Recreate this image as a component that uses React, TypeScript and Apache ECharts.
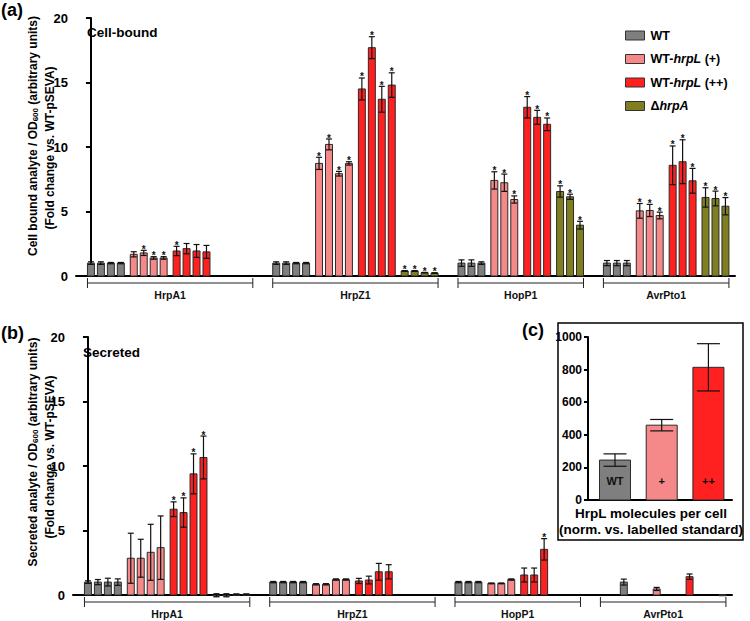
import React, { useEffect, useRef } from "react";
import * as echarts from "echarts";

const FONT = '"Liberation Sans", Arial, Helvetica, sans-serif';

const groups = ["HrpA1", "HrpZ1", "HopP1", "AvrPto1"];
const repsPerGroup = [4, 4, 3, 3];
const strains = ["WT", "WT-hrpL (+)", "WT-hrpL (++)", "ΔhrpA"];
const strainLabels = ["WT", "WT-{i|hrpL} (+)", "WT-{i|hrpL} (++)", "Δ{i|hrpA}"];
const strainColors = ["#7f7f7f", "#f58888", "#ff2020", "#7f7f22"];

// (a) Cell-bound, values in order HrpA1 x4, HrpZ1 x4, HopP1 x3, AvrPto1 x3
const cellWT = [1.0, 1.0, 1.0, 1.0, 1.0, 1.0, 1.0, 1.0, 1.0, 1.0, 1.0, 1.0, 1.0, 1.0];
const cellWTErr = [0.1, 0.1, 0.05, 0.05, 0.1, 0.1, 0.05, 0.05, 0.25, 0.25, 0.1, 0.2, 0.2, 0.2];
const cellWTSig = [0, 0, 0, 0, 0, 0, 0, 0, 0, 0, 0, 0, 0, 0];
const cellPlus = [1.68, 1.79, 1.4, 1.4, 8.73, 10.2, 7.93, 8.73, 7.41, 7.23, 5.93, 5.05, 5.08, 4.69];
const cellPlusErr = [0.2, 0.2, 0.1, 0.1, 0.47, 0.42, 0.18, 0.13, 0.67, 0.67, 0.28, 0.57, 0.47, 0.26];
const cellPlusSig = [0, 1, 1, 1, 1, 1, 1, 1, 1, 1, 1, 1, 1, 1];
const cellPP = [1.94, 2.12, 1.94, 1.87, 14.5, 17.7, 13.7, 14.8, 13.08, 12.3, 11.76, 8.58, 8.86, 7.38];
const cellPPErr = [0.36, 0.4, 0.5, 0.5, 0.85, 0.85, 1.0, 0.95, 0.83, 0.54, 0.49, 1.5, 1.7, 0.96];
const cellPPSig = [1, 0, 0, 0, 1, 1, 1, 1, 1, 1, 1, 1, 1, 1];
const cellDelta = [null, null, null, null, 0.39, 0.39, 0.26, 0.23, 6.55, 6.14, 3.94, 6.09, 6.01, 5.41];
const cellDeltaErr = [0, 0, 0, 0, 0.03, 0.03, 0.02, 0.02, 0.44, 0.2, 0.3, 0.75, 0.57, 0.67];
const cellDeltaSig = [0, 0, 0, 0, 1, 1, 1, 1, 1, 1, 1, 1, 1, 1];

// (b) Secreted
const secWT = [1.0, 1.0, 1.0, 1.0, 1.0, 1.0, 1.0, 1.0, 1.0, 1.0, 1.0, null, null, 1.0];
const secWTErr = [0.1, 0.2, 0.3, 0.25, 0.05, 0.05, 0.05, 0.05, 0.05, 0.05, 0.05, 0, 0, 0.23];
const secWTSig = [0, 0, 0, 0, 0, 0, 0, 0, 0, 0, 0, 0, 0, 0];
const secPlus = [2.85, 2.85, 3.31, 3.67, 0.83, 0.83, 1.2, 1.2, 0.9, 0.9, 1.2, null, null, 0.47];
const secPlusErr = [1.94, 1.47, 2.17, 2.46, 0.05, 0.05, 0.05, 0.05, 0.03, 0.03, 0.05, 0, 0, 0.12];
const secPlusSig = [0, 0, 0, 0, 0, 0, 0, 0, 0, 0, 0, 0, 0, 0];
const secPP = [6.65, 6.39, 9.39, 10.66, 1.09, 1.16, 1.8, 1.8, 1.55, 1.55, 3.54, null, null, 1.42];
const secPPErr = [0.57, 1.14, 1.55, 1.66, 0.2, 0.3, 0.65, 0.55, 0.54, 0.54, 0.83, 0, 0, 0.21];
const secPPSig = [1, 1, 1, 1, 0, 0, 0, 0, 0, 0, 1, 0, 0, 0];
const secDelta = [-0.02, -0.02, 0.06, 0.06, null, null, null, null, null, null, null, null, null, 0.02];
const secDeltaErr = [0.12, 0.12, 0.02, 0.02, 0, 0, 0, 0, 0, 0, 0, 0, 0, 0];
const secDeltaSig = [0, 0, 0, 0, 0, 0, 0, 0, 0, 0, 0, 0, 0, 0];

// (c) HrpL molecules per cell
const insetLabels = ["WT", "+", "++"];
const insetValues = [245, 459, 814];
const insetErr = [38, 35, 145];

const yTicksMain = [0, 20, 5];
const yTicksInset = [0, 1000, 200];

const titleA1 = "{a|Cell bound analyte / OD}{s|600}{a| (arbitrary units)}";
const titleB1 = "{a|Secreted analyte / OD}{s|600}{a| (arbitrary units)}";
const title2 = "(Fold change vs. WT-pSEVA)";

// layout of bar slots (in bar-pitch units)
const SUB_GAP = 0.3;
const GROUP_GAP = 2.7;
const HALF_W = 0.35;

function buildPositions() {
  const pos: number[][] = [[], [], [], []];
  const ranges: number[][] = [];
  let start = 0;
  repsPerGroup.forEach((n) => {
    for (let s = 0; s < 4; s++) for (let r = 0; r < n; r++) pos[s].push(start + s * (n + SUB_GAP) + r);
    const end = start + 3 * (n + SUB_GAP) + n - 1;
    ranges.push([start - HALF_W, end + HALF_W, 0]);
    start = end + GROUP_GAP;
  });
  return { pos, ranges };
}

function makeBarRender(halfW: number, capPx: number, colorOf: (p: any, api: any) => string, labelOf?: (p: any) => string) {
  return (params: any, api: any) => {
    const x = api.value(0);
    const v = api.value(1);
    const e = api.value(2);
    const sig = api.value(3);
    const tl = api.coord([x - halfW, v]);
    const br = api.coord([x + halfW, 0]);
    const children: any[] = [];
    children.push({
      type: "rect",
      shape: { x: tl[0], y: Math.min(tl[1], br[1]), width: br[0] - tl[0], height: Math.max(1, Math.abs(br[1] - tl[1])) },
      style: { fill: colorOf(params, api), stroke: "#2b2b2b", lineWidth: 1 },
    });
    let topY = tl[1];
    if (e > 0) {
      const hi = api.coord([x, v + e]);
      const lo = api.coord([x, v - e]);
      topY = hi[1];
      const st = { stroke: "#111", lineWidth: 1.2 };
      children.push({ type: "line", shape: { x1: hi[0], y1: hi[1], x2: lo[0], y2: lo[1] }, style: st });
      children.push({ type: "line", shape: { x1: hi[0] - capPx, y1: hi[1], x2: hi[0] + capPx, y2: hi[1] }, style: st });
      children.push({ type: "line", shape: { x1: lo[0] - capPx, y1: lo[1], x2: lo[0] + capPx, y2: lo[1] }, style: st });
    }
    if (sig) {
      children.push({
        type: "text",
        style: { text: "*", x: (tl[0] + br[0]) / 2, y: topY + 4, align: "center", verticalAlign: "bottom", font: `bold 10px ${FONT}`, fill: "#111" },
      });
    }
    if (labelOf) {
      children.push({
        type: "text",
        style: { text: labelOf(params), x: (tl[0] + br[0]) / 2, y: br[1] - 19, align: "center", verticalAlign: "middle", font: `bold 11px ${FONT}`, fill: "#111" },
      });
    }
    return { type: "group", children };
  };
}

function makeBracketRender(offset: number) {
  return (params: any, api: any) => {
    const a = api.coord([api.value(0), 0]);
    const b = api.coord([api.value(1), 0]);
    const y = a[1] + offset;
    const st = { stroke: "#222", lineWidth: 1 };
    return {
      type: "group",
      children: [
        { type: "line", shape: { x1: a[0], y1: y, x2: b[0], y2: y }, style: st },
        { type: "line", shape: { x1: a[0], y1: y - 5, x2: a[0], y2: y + 5 }, style: st },
        { type: "line", shape: { x1: b[0], y1: y - 5, x2: b[0], y2: y + 5 }, style: st },
        {
          type: "text",
          style: { text: groups[params.dataIndex], x: (a[0] + b[0]) / 2, y: y + 12, align: "center", verticalAlign: "middle", font: `bold 10.5px ${FONT}`, fill: "#111" },
        },
      ],
    };
  };
}

function yTitle(text: string, x: number, y: number, rich: boolean) {
  const style: any = { text, font: `bold 12px ${FONT}`, fill: "#000", align: "center", verticalAlign: "middle" };
  if (rich) {
    style.rich = {
      a: { font: `bold 12px ${FONT}`, fill: "#000" },
      s: { font: `bold 8px ${FONT}`, fill: "#000", padding: [5, 0, 0, 0] },
    };
  }
  return { type: "text", x, y, rotation: Math.PI / 2, style, silent: true };
}

export default function App() {
  const ref = useRef<HTMLDivElement>(null);
  useEffect(() => {
    if (!ref.current) return;
    const chart = echarts.init(ref.current, undefined, { renderer: "svg" });
    const { pos, ranges } = buildPositions();

    const panelSets = [
      [
        [cellWT, cellWTErr, cellWTSig],
        [cellPlus, cellPlusErr, cellPlusSig],
        [cellPP, cellPPErr, cellPPSig],
        [cellDelta, cellDeltaErr, cellDeltaSig],
      ],
      [
        [secWT, secWTErr, secWTSig],
        [secPlus, secPlusErr, secPlusSig],
        [secPP, secPPErr, secPPSig],
        [secDelta, secDeltaErr, secDeltaSig],
      ],
    ];

    const series: any[] = [];
    panelSets.forEach((sets, panel) => {
      sets.forEach(([vals, errs, sigs]: any, s: number) => {
        const data: any[] = [];
        vals.forEach((v: number | null, i: number) => {
          if (v === null) return;
          data.push([pos[s][i], v, errs[i], sigs[i]]);
        });
        const color = strainColors[s];
        series.push({
          type: "custom",
          name: strains[s],
          xAxisIndex: panel,
          yAxisIndex: panel,
          clip: false,
          silent: true,
          itemStyle: { color },
          encode: { x: 0, y: 1 },
          data,
          renderItem: makeBarRender(HALF_W, 3, () => color),
          z: 3,
        });
      });
      series.push({
        type: "custom",
        name: "brackets" + panel,
        xAxisIndex: panel,
        yAxisIndex: panel,
        clip: false,
        silent: true,
        encode: { x: [0, 1], y: 2 },
        data: ranges,
        renderItem: makeBracketRender(7),
      });
    });

    series.push({
      type: "custom",
      name: "HrpL",
      xAxisIndex: 2,
      yAxisIndex: 2,
      clip: false,
      silent: true,
      encode: { x: 0, y: 1 },
      data: insetValues.map((v, i) => [i + 1, v, insetErr[i], 0, i]),
      renderItem: makeBarRender(0.332, 11.5, (p: any) => strainColors[p.dataIndex], (p: any) => insetLabels[p.dataIndex]),
      z: 3,
    });

    const axisLine = { show: true, lineStyle: { color: "#000", width: 2 } };
    const yLabel = { fontFamily: FONT, fontWeight: "bold", fontSize: 13, color: "#000", margin: 8 };
    const mainX = (i: number) => ({
      type: "value",
      gridIndex: i,
      min: -1.5,
      max: 64.66,
      axisLine,
      axisTick: { show: false },
      axisLabel: { show: false },
      splitLine: { show: false },
    });
    const mainY = (i: number) => ({
      type: "value",
      gridIndex: i,
      min: yTicksMain[0],
      max: yTicksMain[1],
      interval: yTicksMain[2],
      axisLine,
      axisTick: { show: true, length: 5, lineStyle: { width: 2, color: "#000" } },
      axisLabel: yLabel,
      splitLine: { show: false },
    });

    const option: any = {
      animation: false,
      textStyle: { fontFamily: FONT },
      grid: [
        { left: 76, top: 18, width: 659, height: 258 },
        { left: 73, top: 337, width: 659, height: 258 },
        { left: 588, top: 337, width: 144, height: 163 },
      ],
      xAxis: [
        mainX(0),
        mainX(1),
        {
          type: "value",
          gridIndex: 2,
          min: 0.422,
          max: 3.505,
          axisLine,
          axisTick: { show: false },
          axisLabel: { show: false },
          splitLine: { show: false },
        },
      ],
      yAxis: [
        mainY(0),
        mainY(1),
        {
          type: "value",
          gridIndex: 2,
          min: yTicksInset[0],
          max: yTicksInset[1],
          interval: yTicksInset[2],
          axisLine,
          axisTick: { show: true, length: 4, lineStyle: { width: 2, color: "#000" } },
          axisLabel: { fontFamily: FONT, fontWeight: "bold", fontSize: 12, color: "#000", margin: 6, formatter: (v: number) => String(v) },
          splitLine: { show: false },
        },
      ],
      legend: {
        data: strains,
        orient: "vertical",
        left: 620,
        top: 24,
        itemWidth: 19,
        itemHeight: 9,
        itemGap: 10.5,
        icon: "rect",
        selectedMode: false,
        itemStyle: { borderColor: "#333", borderWidth: 1 },
        formatter: (name: string) => strainLabels[strains.indexOf(name)],
        textStyle: {
          fontFamily: FONT,
          fontWeight: "bold",
          fontSize: 12.5,
          color: "#000",
          padding: [0, 0, 0, 1],
          rich: {
            i: { fontFamily: FONT, fontWeight: "bold", fontStyle: "italic", fontSize: 12.5, color: "#000" },
          },
        },
      },
      graphic: [
        yTitle(titleA1, 33, 136, true),
        yTitle(title2, 50, 148, false),
        yTitle(titleB1, 33, 452, true),
        yTitle(title2, 50, 457, false),
        { type: "text", left: 1, top: 1, style: { text: "(a)", font: `bold 18px ${FONT}`, fill: "#000" } },
        { type: "text", left: 1, top: 324, style: { text: "(b)", font: `bold 18px ${FONT}`, fill: "#000" } },
        { type: "text", left: 522, top: 321, style: { text: "(c)", font: `bold 18px ${FONT}`, fill: "#000" } },
        { type: "text", left: 87, top: 25, style: { text: "Cell-bound", font: `bold 13.5px ${FONT}`, fill: "#000" } },
        { type: "text", left: 83, top: 345, style: { text: "Secreted", font: `bold 13.5px ${FONT}`, fill: "#000" } },
        {
          type: "rect",
          shape: { x: 558, y: 323, width: 185, height: 217 },
          style: { fill: "none", stroke: "#000", lineWidth: 1.5 },
          silent: true,
        },
        {
          type: "text",
          x: 651,
          y: 513,
          style: { text: "HrpL molecules per cell", align: "center", verticalAlign: "middle", font: `bold 13.5px ${FONT}`, fill: "#000" },
        },
        {
          type: "text",
          x: 651,
          y: 529,
          style: { text: "(norm. vs. labelled standard)", align: "center", verticalAlign: "middle", font: `bold 13.5px ${FONT}`, fill: "#000" },
        },
      ],
      series,
    };
    chart.setOption(option);
    return () => chart.dispose();
  }, []);
  return <div ref={ref} style={{ position: "fixed", left: 0, top: 0, width: 750, height: 621, background: "#fff" }} />;
}
